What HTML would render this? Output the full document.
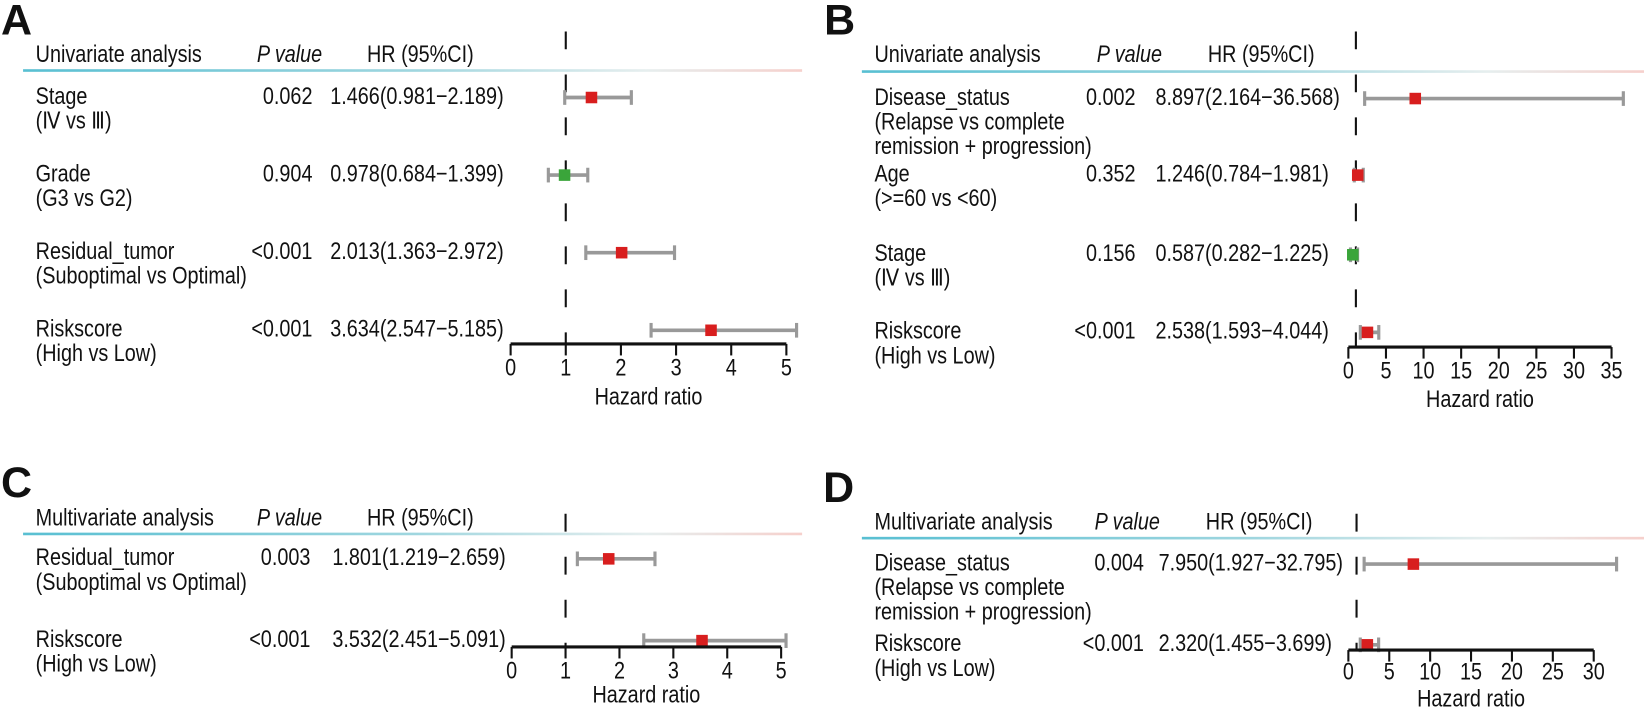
<!DOCTYPE html>
<html><head><meta charset="utf-8"><style>
html,body{margin:0;padding:0;background:#fff;}
svg text{font-family:"Liberation Sans",Arial,sans-serif;fill:#111;}
</style></head><body>
<svg id="fig" width="1644" height="709" viewBox="0 0 1644 709" xmlns="http://www.w3.org/2000/svg">
<defs>
<linearGradient id="hdr" x1="0" x2="1" y1="0" y2="0">
<stop offset="0" stop-color="#58bfd2"/><stop offset="0.5" stop-color="#9fd6df"/><stop offset="0.8" stop-color="#e6eeee"/><stop offset="1" stop-color="#f6d0cc"/>
</linearGradient>
</defs>
<g id="root" transform="scale(1.0485)"></g>
</svg>
<script>
// Panel A data
const aLabels=["Stage","Grade","Residual_tumor","Riskscore"];
const aSub=[["(Ⅳ vs Ⅲ)"],["(G3 vs G2)"],["(Suboptimal vs Optimal)"],["(High vs Low)"]];
const aP=["0.062","0.904","<0.001","<0.001"];
const aHR=[1.466,0.978,2.013,3.634];
const aLo=[0.981,0.684,1.363,2.547];
const aHi=[2.189,1.399,2.972,5.185];
const aTicks=[0,1,2,3,4,5];
// Panel B data
const bLabels=["Disease_status","Age","Stage","Riskscore"];
const bSub=[["(Relapse vs complete","remission + progression)"],["(>=60 vs <60)"],["(Ⅳ vs Ⅲ)"],["(High vs Low)"]];
const bP=["0.002","0.352","0.156","<0.001"];
const bHR=[8.897,1.246,0.587,2.538];
const bLo=[2.164,0.784,0.282,1.593];
const bHi=[36.568,1.981,1.225,4.044];
const bTicks=[0,5,10,15,20,25,30,35];
// Panel C data
const cLabels=["Residual_tumor","Riskscore"];
const cSub=[["(Suboptimal vs Optimal)"],["(High vs Low)"]];
const cP=["0.003","<0.001"];
const cHR=[1.801,3.532];
const cLo=[1.219,2.451];
const cHi=[2.659,5.091];
const cTicks=[0,1,2,3,4,5];
// Panel D data
const dLabels=["Disease_status","Riskscore"];
const dSub=[["(Relapse vs complete","remission + progression)"],["(High vs Low)"]];
const dP=["0.004","<0.001"];
const dHR=[7.950,2.320];
const dLo=[1.927,1.455];
const dHi=[32.795,3.699];
const dTicks=[0,5,10,15,20,25,30];

const NS="http://www.w3.org/2000/svg";
const root=document.getElementById('root');
function mk(tag,attrs,parent){const e=document.createElementNS(NS,tag);for(const k in attrs)e.setAttribute(k,attrs[k]);(parent||root).appendChild(e);return e;}
function txt(s,x,y,opt,parent){
  opt=opt||{};
  const t=mk('text',{transform:`translate(${x},${y}) scale(${opt.sx||0.84},1)`,'font-size':opt.fs||22.5,'text-anchor':opt.anchor||'start'},parent);
  if(opt.italic)t.setAttribute('font-style','italic');
  if(opt.bold)t.setAttribute('font-weight','bold');
  t.textContent=s;return t;
}
function panel(cfg){
  const g=mk('g',{});
  
  
  const L=txt(cfg.letter,cfg.lx,cfg.ly,{fs:41,bold:true,sx:1},g);
  
  
  const h1=txt(cfg.title,cfg.x0,cfg.hy,{},g);
  
  
  const h2=txt('P value',cfg.phx,cfg.hy,{italic:true},g);
  
  
  const h3=txt('HR (95%CI)',cfg.hhx,cfg.hy,{},g);
  
  
  const hl=mk('rect',{x:cfg.x0-12,y:cfg.liney-1,width:cfg.lineW,height:2.5,fill:'url(#hdr)'},g);
  
  
  const sx=v=>cfg.ax0+(v-cfg.ticks[0])*(cfg.ax1-cfg.ax0)/(cfg.ticks[cfg.ticks.length-1]-cfg.ticks[0]);
  const ref=mk('line',{x1:sx(1),x2:sx(1),y1:cfg.refTop,y2:cfg.axY,stroke:'#111','stroke-width':2,'stroke-dasharray':'17,24'},g);
  
  
  cfg.labels.forEach((lab,i)=>{
    const y=cfg.rows[i];
    const a=txt(lab,cfg.x0,y,{},g);
    
    
    cfg.sub[i].forEach((s,j)=>{const b=txt(s,cfg.x0,y+23.5*(j+1),{},g);
      
      });
    const p=txt(cfg.p[i],cfg.px,y,{anchor:'end'},g);
    
    
    const hs=cfg.hr[i].toFixed(3)+'('+cfg.lo[i].toFixed(3)+'−'+cfg.hi[i].toFixed(3)+')';
    const h=txt(hs,cfg.hrx,y,{},g);
    
    
    const my=y-6;
    const ci=mk('line',{x1:sx(cfg.lo[i]),x2:sx(cfg.hi[i]),y1:my,y2:my,stroke:'#999','stroke-width':3.5},g);
    
    
    [cfg.lo[i],cfg.hi[i]].forEach(v=>{const c=mk('line',{x1:sx(v),x2:sx(v),y1:my-7,y2:my+7,stroke:'#999','stroke-width':3},g);
      
      });
    const m=mk('rect',{x:sx(cfg.hr[i])-5.5,y:my-5.5,width:11,height:11,fill:cfg.hr[i]>=1?'#d81e1e':'#3aa53a'},g);
    
    
  });
  const ax=mk('line',{x1:sx(cfg.ticks[0]),x2:sx(cfg.ticks[cfg.ticks.length-1]),y1:cfg.axY,y2:cfg.axY,stroke:'#111','stroke-width':3},g);
  
  
  cfg.ticks.forEach(t=>{
    const tk=mk('line',{x1:sx(t),x2:sx(t),y1:cfg.axY,y2:cfg.axY+11,stroke:'#111','stroke-width':2},g);
    
    
    const tl=txt(String(t),sx(t),cfg.tickY,{anchor:'middle'},g);
    
    
  });
  const xt=txt('Hazard ratio',(sx(cfg.ticks[0])+sx(cfg.ticks[cfg.ticks.length-1]))/2,cfg.titleY,{anchor:'middle'},g);
  
  
}
panel({letter:'A',lx:1,ly:33,title:'Univariate analysis',x0:34,hy:59,phx:245,hhx:350,px:298,hrx:315,liney:67,lineW:743,
  labels:aLabels,sub:aSub,p:aP,hr:aHR,lo:aLo,hi:aHi,ticks:aTicks,rows:[99,173,247,321],
  ax0:487,ax1:750,axY:328,tickY:358,titleY:386,refTop:30});
panel({letter:'B',lx:786,ly:33,title:'Univariate analysis',x0:834,hy:59,phx:1046,hhx:1152,px:1083,hrx:1102,liney:68,lineW:746,
  labels:bLabels,sub:bSub,p:bP,hr:bHR,lo:bLo,hi:bHi,ticks:bTicks,rows:[100,173,249,323],
  ax0:1286,ax1:1537,axY:331,tickY:361,titleY:388,refTop:30});
panel({letter:'C',lx:1,ly:474,title:'Multivariate analysis',x0:34,hy:501,phx:245,hhx:350,px:296,hrx:317,liney:509,lineW:743,
  labels:cLabels,sub:cSub,p:cP,hr:cHR,lo:cLo,hi:cHi,ticks:cTicks,rows:[539,617],
  ax0:488,ax1:745,axY:617,tickY:647,titleY:670,refTop:490});
panel({letter:'D',lx:785,ly:479,title:'Multivariate analysis',x0:834,hy:505,phx:1044,hhx:1150,px:1091,hrx:1105,liney:513,lineW:746,
  labels:dLabels,sub:dSub,p:dP,hr:dHR,lo:dLo,hi:dHi,ticks:dTicks,rows:[544,621],
  ax0:1286,ax1:1520,axY:620,tickY:648,titleY:674,refTop:490});
</script>
</body></html>
